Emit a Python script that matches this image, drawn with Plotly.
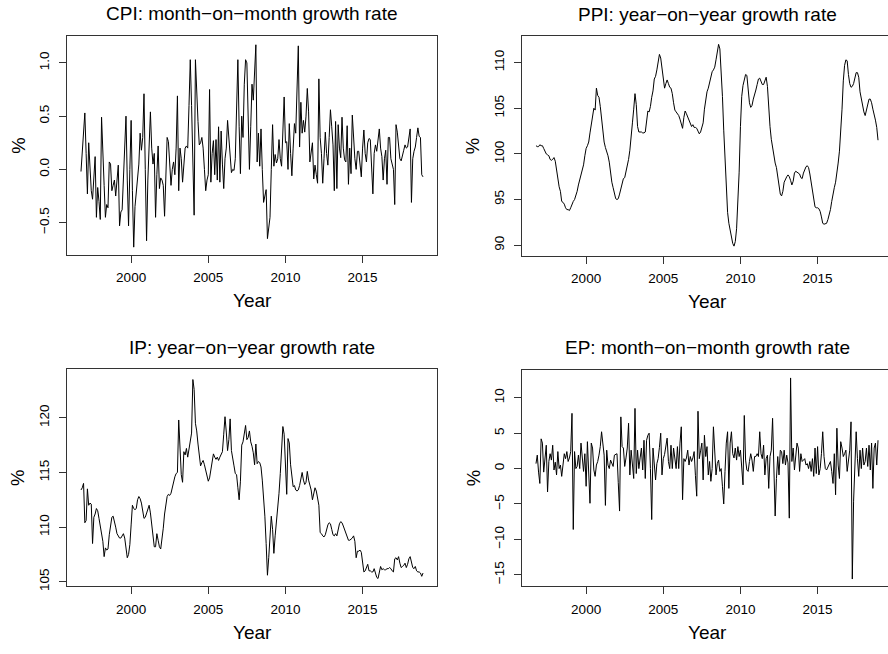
import plotly.graph_objects as go

# ---------------- data (monthly, Oct 1996 - Dec 2018) ----------------
start_year = 1996
start_month = 10

cpi = [
    -0.02, 0.2, 0.4, 0.53, 0.15, -0.23, 0.25, 0.0, -0.2, -0.28, 0.0, 0.12,
    -0.45, -0.17, -0.3, -0.47, 0.49, 0.1, -0.15, -0.45, -0.33, -0.36, 0.07, 0.05,
    -0.2, -0.15, -0.1, -0.25, -0.1, 0.04, -0.53, -0.4, -0.38, -0.1, 0.2, 0.5,
    -0.1, -0.53, 0.0, 0.46, -0.2, -0.73, -0.35, -0.2, -0.05, 0.05, 0.34, 0.18,
    0.3, 0.71, 0.0, -0.67, -0.1, 0.2, 0.54, 0.2, 0.05, 0.15, -0.45, -0.05,
    0.22, -0.18, -0.08, -0.1, -0.15, -0.44, -0.05, 0.3, 0.26, 0.05, -0.15, 0.0,
    0.07, -0.05, 0.2, 0.69, -0.2, 0.2, 0.1, -0.12, 0.05, 0.2, 0.22, 0.2,
    0.6, 1.03, 0.6, 0.0, -0.43, 1.03, 0.7, 0.45, 0.23, 0.25, 0.3, 0.2,
    0.0, -0.2, -0.1, -0.05, 0.75, -0.12, 0.15, 0.27, -0.05, 0.28, -0.1, 0.4,
    -0.12, 0.36, 0.05, -0.18, 0.1, 0.2, 0.46, 0.3, 0.1, -0.03, 0.0, -0.01,
    0.1, 0.5, 1.03, 0.4, -0.04, 0.5, 0.3, 0.8, 1.03, 1.0, 0.5, 0.0,
    0.4, 0.8, 0.65, 0.9, 1.17, 0.07, 0.34, 0.03, 0.38, 0.0, -0.31, -0.25,
    -0.19, -0.65, -0.55, -0.45, 0.0, 0.42, 0.03, 0.14, 0.06, 0.1, 0.28, 0.1,
    0.03, 0.35, 0.68, 0.25, 0.26, 0.0, 0.43, 0.15, -0.06, 0.2, 0.43, 0.34,
    0.7, 1.16, 0.21, 0.63, 0.34, 0.46, 0.35, 0.5, 0.76, 0.54, 0.07, 0.15,
    0.25, -0.09, 0.04, -0.05, -0.13, 0.85, 0.3, 0.15, -0.13, 0.1, 0.35, 0.15,
    0.04, 0.3, 0.56, 0.4, 0.23, -0.2, 0.45, -0.18, 0.42, 0.2, 0.11, 0.49,
    0.2, 0.09, 0.07, 0.41, -0.14, 0.2, -0.04, 0.51, 0.25, 0.1, 0.0, 0.17,
    0.17, 0.05, -0.07, 0.2, 0.37, 0.15, 0.07, 0.25, 0.29, 0.28, 0.0, -0.23,
    0.15, 0.23, 0.17, 0.3, 0.38, 0.2, 0.12, -0.1, 0.1, 0.18, -0.14, 0.3,
    0.3, 0.1, 0.04, 0.0, -0.33, 0.42, 0.35, 0.2, 0.1, 0.08, 0.12, 0.18,
    0.23, 0.2, 0.21, 0.3, 0.38, -0.31, 0.1, 0.17, 0.21, 0.3, 0.39, 0.31,
    0.3, -0.05, -0.07,
]

ppi = [
    100.9, 100.8, 100.8, 101.0, 100.9, 100.9, 100.6, 100.3, 100.0, 99.9, 99.8, 99.4,
    99.3, 99.4, 99.6, 99.2, 98.2, 97.2, 96.4, 95.9, 94.8, 94.7, 94.5, 94.1,
    93.9, 93.9, 93.8, 94.1, 94.5, 94.8, 95.0, 95.4, 95.9, 96.6, 97.2, 97.6,
    98.2, 98.8, 99.8, 100.6, 100.9, 101.3, 102.3, 103.4, 104.5, 105.0, 104.8, 107.2,
    106.4, 106.2, 105.2, 103.8, 102.3, 101.3, 100.7, 100.3, 99.8, 99.1, 97.8, 96.9,
    96.3, 95.7, 95.1, 95.0, 95.1, 95.6, 96.2, 96.9, 97.3, 97.4, 98.0, 98.7,
    99.4, 100.4, 101.6, 103.4, 104.9, 106.6, 105.4, 103.0, 102.4, 102.4, 102.4, 102.3,
    102.3, 102.4, 103.6, 104.7, 104.6, 105.2, 106.2, 106.9, 108.2, 108.5, 109.2, 110.2,
    110.9, 110.5, 109.4, 108.2, 107.2, 107.7, 108.1, 107.7, 107.3, 107.2, 106.6, 105.6,
    104.8, 104.6, 104.4, 104.2, 103.8, 103.4, 102.8, 104.0, 104.7, 104.4, 104.0, 103.8,
    103.4, 103.0, 103.2, 102.9, 102.9, 102.8, 102.5, 102.2, 102.4, 102.8, 103.4, 104.9,
    106.0, 106.8, 107.2, 107.8, 108.7, 109.0, 109.2, 109.5, 110.3, 111.2, 112.0, 111.5,
    109.3, 106.3, 102.6, 99.2, 96.0, 93.6, 92.4, 91.6, 90.8, 90.2, 89.9, 90.4,
    91.8, 94.5, 98.0, 103.0, 106.3, 107.5, 108.3, 108.7, 108.6, 107.3, 105.6, 105.1,
    105.3, 106.0, 106.7, 107.0, 107.6, 108.2, 108.3, 108.0, 107.6, 107.6, 108.1, 108.4,
    107.4, 104.9, 103.0, 101.6, 100.6, 99.5, 99.0, 98.5, 97.6, 96.5, 95.6, 95.4,
    95.9, 96.9, 97.3, 97.5, 97.7, 97.5, 97.1, 96.6, 97.0, 97.9, 98.1, 98.0,
    98.0, 97.8, 97.4, 97.3, 97.9, 98.3, 98.6, 98.7, 98.5, 97.8, 97.0, 96.1,
    95.3, 94.2, 94.1, 94.1, 94.0, 93.7, 93.1, 92.4, 92.3, 92.4, 92.4, 92.8,
    93.3, 93.9, 94.8, 95.7, 96.3, 96.9, 97.8, 99.0, 100.3, 102.2, 104.9, 108.0,
    109.7, 110.3, 110.2, 108.7, 107.7, 107.3, 107.4, 107.7, 108.3, 108.9, 108.9, 108.4,
    106.8, 106.0, 105.2, 104.6, 104.2, 104.8, 105.6, 106.0, 106.0, 105.6, 104.9, 104.4,
    103.7, 102.9, 101.5,
]

ip = [
    113.4, 113.6, 114.0, 110.4, 110.6, 113.5, 112.0, 112.2, 112.1, 108.5, 110.9, 111.2,
    111.7, 111.5, 110.8, 110.0, 109.4, 108.7, 107.3, 108.1, 107.9, 108.0, 109.3, 110.4,
    110.9, 111.0, 110.6, 110.0, 109.4, 109.2, 109.0, 109.0, 109.2, 109.4, 109.0, 108.2,
    107.2, 107.5, 108.4, 110.2, 112.0, 111.7, 111.6, 111.7, 112.5, 112.8, 112.6, 112.2,
    111.3, 110.8, 110.9, 111.3, 111.8, 112.0, 111.3, 110.4, 109.3, 108.2, 108.2, 109.4,
    108.8, 108.2, 108.0, 108.8, 109.9, 111.2, 112.3, 112.8, 113.0, 112.9, 113.1, 113.7,
    114.2, 114.6, 114.9, 115.0, 119.8, 116.8, 114.8, 114.1, 116.9, 116.6, 117.2, 116.4,
    117.3, 117.8, 118.6, 123.5, 122.6, 119.5, 118.8, 117.6, 116.4, 115.6, 115.9, 116.1,
    115.7, 115.1, 114.5, 114.2, 114.5, 115.2, 115.8, 116.7, 116.4, 116.2, 116.4, 116.1,
    116.4, 116.6, 116.9, 118.5, 120.1, 118.7, 117.0, 118.0, 119.9, 117.0, 116.1, 115.6,
    114.9, 114.8, 113.6, 112.5, 114.2, 117.5, 117.8, 118.4, 119.3, 118.0, 118.2, 118.8,
    117.8, 117.4, 116.8, 115.7, 117.6, 115.8, 116.0, 115.9, 115.5, 114.3, 113.0, 111.0,
    108.5, 105.6, 107.2, 109.5, 111.0, 109.8, 107.6, 109.2, 110.5, 111.4, 113.1, 114.9,
    116.8, 119.2, 118.5, 114.8, 113.0, 118.1, 117.7, 115.7, 114.3, 113.7, 113.8, 113.4,
    113.3, 113.4, 113.8, 114.3, 115.0, 114.3, 113.9, 114.1, 115.1, 114.3, 113.8, 113.4,
    112.5, 113.2, 113.6, 113.3, 112.7, 112.0, 109.5, 109.4, 109.2, 109.1, 109.3, 109.8,
    110.2, 110.4, 110.3, 109.8, 109.3, 109.2, 109.4, 109.2, 109.8, 110.3, 110.5, 110.4,
    110.1, 109.8, 109.5, 109.1, 108.8, 108.8, 108.9, 109.0, 109.2, 108.7, 107.2, 107.8,
    107.8, 107.9, 107.7, 106.8, 105.9, 106.0, 106.3, 106.6, 106.0, 106.0, 105.9, 105.9,
    106.2, 105.7, 105.4, 105.3, 105.9, 106.4, 106.1, 106.2, 106.1, 106.1, 106.2, 106.2,
    106.3, 106.2, 106.0, 105.9, 107.1, 107.2, 107.0, 107.3, 106.7, 106.3, 106.4, 106.5,
    106.7, 106.3, 106.6, 107.1, 107.3, 106.8, 106.3, 106.2, 106.4, 106.0, 105.9, 105.9,
    105.8, 105.5, 105.8,
]

ep = [
    0.7, 1.9, -0.5, -2.1, 4.2, 3.6, -0.5, 1.5, 3.3, -3.3, 1.0, 2.1,
    1.2, 3.3, -0.2, 0.9, -0.9, 2.4, 0.0, 0.5, -1.1, 0.5, 2.1, 1.4,
    2.4, 1.0, 1.5, 2.4, 7.8, -8.6, 2.4, 0.0, 0.3, 1.9, 0.0, 3.6,
    1.0, -0.4, 2.1, -2.5, 3.8, 0.0, -4.9, 3.6, 2.9, -0.2, -1.1, 0.5,
    1.0, 1.9, 3.1, 5.2, 3.0, 1.9, -5.2, 2.6, 0.5, 0.0, 1.2, 0.8,
    0.3, 1.9, 2.0, 2.1, -2.0, -6.0, 7.3, 3.1, 2.9, 0.3, 1.5, 2.9,
    6.4, -0.9, 2.6, 0.5, -1.4, 8.5, -0.7, 2.6, 0.0, 1.5, 2.9, -0.2,
    4.0, -1.4, 4.0, 4.7, 5.0, 0.0, -7.2, 2.9, 1.0, -1.6, 0.7, 1.4,
    3.0, 5.0, -0.9, 1.4, 2.0, 2.9, 4.3, 1.0, 0.0, 3.3, 0.0, 2.9,
    1.0, 0.0, 3.1, 0.0, 3.6, 5.9, -4.4, 1.4, 1.0, 1.5, 2.6, 0.5,
    1.7, 1.0, 1.5, 2.4, -1.0, -3.9, 8.1, 1.4, 2.5, 3.6, -1.6, 4.7,
    1.7, 3.1, -0.9, 1.0, -1.8, 0.0, 5.9, 1.7, -0.9, 0.7, 1.2, -0.4,
    0.0, -2.5, -5.0, -0.4, 3.6, 5.2, -2.8, 3.6, 5.2, 2.1, 1.5, 2.9,
    1.2, 3.1, 1.7, 2.6, 0.5, -2.3, 7.5, 1.2, -0.2, -0.4, 1.0, 2.1,
    1.2, -0.4, 1.7, 1.7, 2.1, 1.7, 5.2, 2.1, 1.4, 3.3, -0.9, 1.4,
    1.9, -2.8, 1.7, 2.6, 7.1, 0.0, -6.7, -1.4, 1.7, -0.9, 2.6, 2.4,
    0.7, 2.6, 0.5, 1.9, 0.8, -7.0, 12.8, 1.0, 2.9, -0.2, 1.5, 3.6,
    2.9, -0.4, 2.1, 1.0, 1.2, 1.4, 0.5, 0.7, 0.0, 1.0, -0.4, 1.4,
    -1.1, 2.9, -0.7, 3.1, -0.9, 0.0, 2.1, 5.2, 1.7, 0.0, -0.2, 0.3,
    0.5, 1.0, -0.4, -2.1, 2.1, -3.7, 5.7, 0.5, -1.4, 3.8, 2.9, 1.7,
    2.1, 2.6, -0.4, 1.5, 2.6, 6.6, -15.6, -4.6, 0.0, 5.2, 1.4, -1.1,
    2.6, 0.0, 2.9, 0.5, 1.0, 2.9, 0.3, 3.3, -0.2, 3.6, -2.8, 2.9,
    3.6, 0.5, 4.0,
]

titles = ["CPI: month\u2212on\u2212month growth rate",
          "PPI: year\u2212on\u2212year growth rate",
          "IP: year\u2212on\u2212year growth rate",
          "EP: month\u2212on\u2212month growth rate"]
x_ticks = [2000, 2005, 2010, 2015]
cpi_ticks = [-0.5, 0.0, 0.5, 1.0]
cpi_tick_text = ["\u22120.5", "0.0", "0.5", "1.0"]
ppi_ticks = [90, 95, 100, 105, 110]
ip_ticks = [105, 110, 115, 120]
ep_ticks = [-15, -10, -5, 0, 5, 10]
ep_tick_text = ["\u221215", "\u221210", "\u22125", "0", "5", "10"]
x_title = "Year"
y_title = "%"

# time index (decimal years)
t = [start_year + (start_month - 1) / 12 + k / 12 for k in range(len(cpi))]

# ---------------- layout helpers ----------------
W, H = 888, 654
FONT = "Liberation Sans, Arial, Helvetica, sans-serif"


def fx(p):
    return p / W


def fy(p):
    return 1 - p / H


# pixel boxes of the four panels (left, right, top, bottom)
boxes = [
    (67.3, 436.7, 36.0, 257.0),
    (522.3, 888.0, 36.5, 257.5),
    (67.3, 436.7, 372.0, 591.0),
    (522.3, 888.0, 372.5, 591.0),
]
x_full = [1995.863, 2019.803]
px_per_year = (boxes[0][1] - boxes[0][0]) / (x_full[1] - x_full[0])

yranges = [[-0.804, 1.255], [88.87, 112.89], [104.57, 124.45], [-16.65, 13.97]]
yticks = [(cpi_ticks, cpi_tick_text),
          (ppi_ticks, [str(v) for v in ppi_ticks]),
          (ip_ticks, [str(v) for v in ip_ticks]),
          (ep_ticks, ep_tick_text)]
series = [cpi, ppi, ip, ep]

fig = go.Figure()
annotations = []
layout = dict(
    width=W, height=H,
    margin=dict(l=0, r=0, t=0, b=0),
    paper_bgcolor="white", plot_bgcolor="white",
    showlegend=False,
    font=dict(family=FONT, color="black"),
)

for k in range(4):
    L, R, T, B = boxes[k]
    sfx = "" if k == 0 else str(k + 1)
    fig.add_trace(go.Scatter(
        x=t, y=series[k], mode="lines",
        line=dict(color="black", width=1),
        xaxis="x" + sfx, yaxis="y" + sfx, hoverinfo="skip",
    ))
    xr = [x_full[0], x_full[0] + (R - L) / px_per_year]
    is_right = k % 2 == 1
    layout["xaxis" + sfx] = dict(
        domain=[fx(L), fx(R)], range=xr, anchor="y" + sfx,
        showgrid=False, zeroline=False,
        showline=True, linecolor="#333", linewidth=1, mirror=True,
        ticks="outside", ticklen=7, tickwidth=1, tickcolor="#333",
        tickvals=x_ticks, ticktext=[str(v) for v in x_ticks],
        tickfont=dict(size=13.5, family=FONT, color="black"),
        ticklabelstandoff=3,
    )
    layout["yaxis" + sfx] = dict(
        domain=[fy(B), fy(T)], range=yranges[k], anchor="x" + sfx,
        showgrid=False, zeroline=False,
        showline=True, linecolor="#333", linewidth=1,
        mirror=(not is_right),
        ticks="outside", ticklen=7, tickwidth=1, tickcolor="#333",
        tickvals=yticks[k][0], ticktext=yticks[k][1], tickangle=-90,
        tickfont=dict(size=13.5, family=FONT, color="black"),
        ticklabelstandoff=5,
    )
    cx = (L + (L + 369.4)) / 2
    annotations.append(dict(
        text=titles[k], x=fx(cx), y=fy(T - 22), xref="paper", yref="paper",
        showarrow=False, xanchor="center", yanchor="middle",
        font=dict(size=19, family=FONT, color="black"),
    ))
    annotations.append(dict(
        text=x_title, x=fx(cx), y=fy(B + 46), xref="paper", yref="paper",
        showarrow=False, xanchor="center", yanchor="middle",
        font=dict(size=19, family=FONT, color="black"),
    ))
    annotations.append(dict(
        text=y_title, x=fx(L - 49), y=fy((T + B) / 2), xref="paper", yref="paper",
        showarrow=False, xanchor="center", yanchor="middle", textangle=-90,
        font=dict(size=18.5, family=FONT, color="black"),
    ))

layout["annotations"] = annotations
fig.update_layout(**layout)
fig.write_html(
    "out.html",
    config={"displayModeBar": False, "staticPlot": True},
    post_script="document.body.style.margin='0';document.body.style.overflow='hidden';",
)
